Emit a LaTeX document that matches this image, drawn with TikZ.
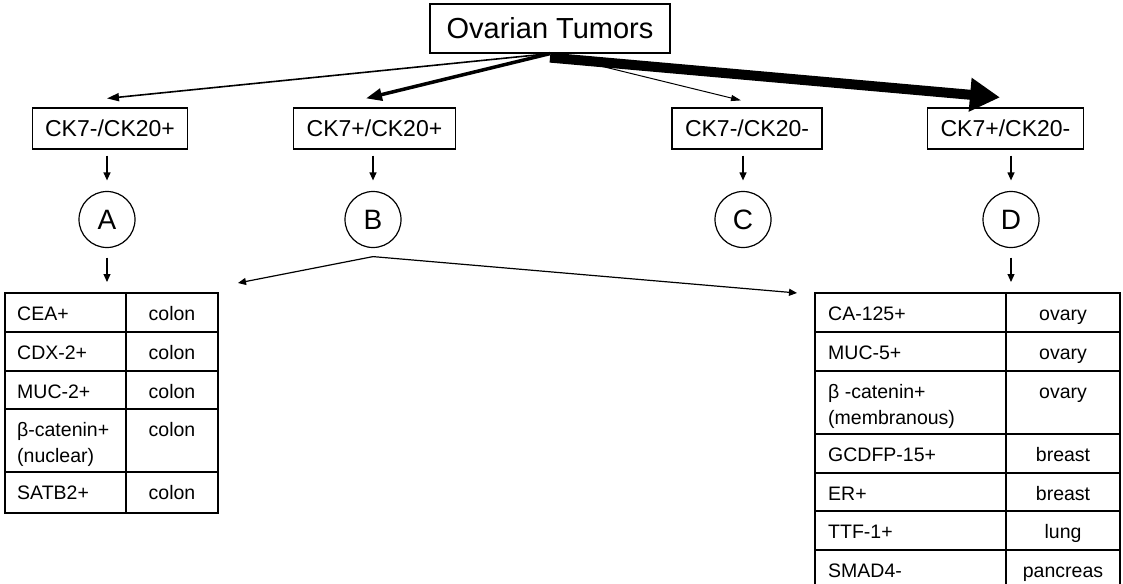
\documentclass[tikz,border=0pt]{standalone}
\usepackage{fontspec}
\setmainfont{Liberation Sans}
\usetikzlibrary{arrows.meta, positioning, calc}

\begin{document}
\begin{tikzpicture}[x=1pt, y=-1pt,
        marker/.style={draw, line width=1.2pt, font=\fontsize{23}{27}\selectfont, minimum height=41pt, inner xsep=13pt},
        group/.style={draw, circle, line width=1.2pt, minimum size=56pt, inner sep=0pt, font=\fontsize{28}{32}\selectfont},
        grid/.style={draw, line width=1.2pt, inner sep=0pt, outer sep=0pt, anchor=north west},
        cell/.style={inner sep=0pt, font=\fontsize{19.5}{24}\selectfont},
        down/.style={line width=1.2pt, -{Triangle[length=8pt,width=7pt]}}]

    \useasboundingbox (0,0) rectangle (1123,583);

    \node[draw, line width=1.2pt, font=\fontsize{29}{34}\selectfont, minimum width=240pt, minimum height=49pt] (tumors) at (550,28.5) {Ovarian Tumors};

    \node[marker] (ck1) at (110,128.5) {CK7-/CK20+};
    \node[marker] (ck2) at (374.5,128.5) {CK7+/CK20+};
    \node[marker] (ck3) at (747,128.5) {CK7-/CK20-};
    \node[marker] (ck4) at (1005.5,128.5) {CK7+/CK20-};

    \node[group] (A) at (107,219.5) {A};
    \node[group] (B) at (373,219.5) {B};
    \node[group] (C) at (743,219.5) {C};
    \node[group] (D) at (1011,219.5) {D};

    % arrows from the top box, weighted
    \draw[line width=1.6pt, -{Triangle[length=12pt,width=8pt]}] (tumors.south) -- ([xshift=-3pt,yshift=9pt]ck1.north);
    \draw[line width=3.5pt, -{Triangle[length=16pt,width=12pt]}] (tumors.south) -- ([xshift=-8.5pt,yshift=9pt]ck2.north);
    \draw[line width=1pt, -{Triangle[length=10pt,width=6pt]}] (tumors.south) -- ([xshift=-6pt,yshift=7pt]ck3.north);
    \draw[line width=10pt, -{Triangle[length=30pt,width=32pt]}] ([yshift=-4pt]tumors.south) -- ([xshift=-5.5pt,yshift=10pt]ck4.north);

    \foreach \k/\g in {ck1/A, ck2/B, ck3/C, ck4/D}
        \draw[down, shorten <=6pt, shorten >=10.5pt] (\k.south -| \g) -- (\g.north);

    % colon table
    \node[grid, minimum width=213pt, minimum height=220pt] (coltab) at (5,293) {};
    \draw[line width=1.2pt] (126,293) -- (126,513);
    \foreach \y in {332,371,409,472}
        \draw[line width=1.2pt] (5,\y) -- (218,\y);
    \foreach \t/\m/\s [count=\i] in {293/CEA+/colon, 332/CDX-2+/colon, 371/MUC-2+/colon, 409/β-catenin+/colon, 472/SATB2+/colon} {
        \node[cell, anchor=base west] (lm\i) at (17,\t+27) {\m};
        \node[cell, anchor=base] (ls\i) at (172,\t+27) {\s};
    }
    \node[cell, anchor=base west] (lm4b) at (17,409+53) {(nuclear)};

    % organ table
    \node[grid, minimum width=305pt, minimum height=296pt] (orgtab) at (815,293) {};
    \draw[line width=1.2pt] (1006,293) -- (1006,589);
    \foreach \y in {332,371,434,473,511,550}
        \draw[line width=1.2pt] (815,\y) -- (1120,\y);
    \foreach \t/\m/\s [count=\i] in {293/CA-125+/ovary, 332/MUC-5+/ovary, 371/β -catenin+/ovary, 434/GCDFP-15+/breast, 473/ER+/breast, 511/TTF-1+/lung, 550/SMAD4-/pancreas} {
        \node[cell, anchor=base west] (rm\i) at (828,\t+27) {\m};
        \node[cell, anchor=base] (rs\i) at (1063,\t+27) {\s};
    }
    \node[cell, anchor=base west] (rm3b) at (828,371+53) {(membranous)};

    \draw[down, shorten <=9.5pt, shorten >=11pt] (A.south) -- (coltab.north -| A);
    \draw[down, shorten <=9.5pt, shorten >=11pt] (D.south) -- (orgtab.north -| D);

    % B splits to both tables
    \coordinate (fork) at ([yshift=-8.5pt]B.south);
    \draw[down] (fork) -- ([xshift=20pt,yshift=10pt]coltab.north east);
    \draw[down] (fork) -- ([xshift=-18pt]orgtab.north west);
\end{tikzpicture}
\end{document}
